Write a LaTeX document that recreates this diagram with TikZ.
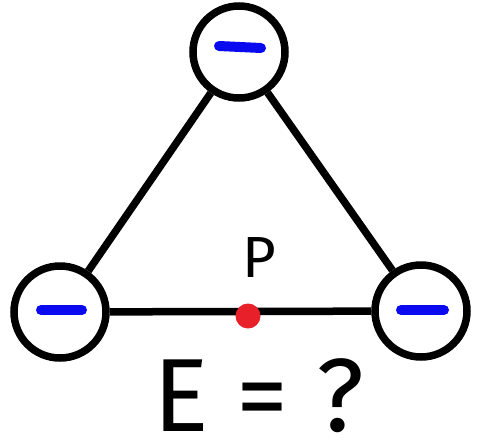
\documentclass[tikz,border=0pt]{standalone}
\usepackage{fontspec}
\setmainfont{Fira Sans}
\definecolor{chargeblue}{HTML}{0A0AF0}
\definecolor{dotred}{HTML}{E8202A}
\begin{document}
\begin{tikzpicture}[x=1pt,y=-1pt,
  charge/.style={circle,draw=black,line width=7.5pt,fill=white,minimum size=92pt,inner sep=0pt},
  rod/.style={line width=7.5pt,black},
  minus/.style={line width=10pt,chargeblue,line cap=round},
  pointdot/.style={circle,fill=dotred,minimum size=25pt,inner sep=0pt},
  lbl/.style={inner sep=0pt,text=black}]
\useasboundingbox (0,0) rectangle (477,440);
\node[charge] (top) at (239,52) {};
\node[charge] (left) at (60,312) {};
\node[charge] (right) at (421,311) {};
\draw[rod] (top) -- (left);
\draw[rod] (top) -- (right);
\draw[rod] (left) -- (right);
\node[pointdot] (pt) at (248,316) {};
\node[lbl,font=\fontsize{58}{60}\selectfont,anchor=base] (plabel) at (259,277) {P};
\node[lbl,font=\fontsize{104}{110}\selectfont,anchor=base] (eq) at (259,431) {E = ?};
\draw[minus] ([xshift=-20pt,yshift=6pt]top.center) -- ([xshift=22pt,yshift=4pt]top.center);
\draw[minus] ([xshift=-19pt,yshift=2pt]left.center) -- ([xshift=22pt,yshift=2pt]left.center);
\draw[minus] ([xshift=-20pt,yshift=1pt]right.center) -- ([xshift=23pt,yshift=1pt]right.center);
\end{tikzpicture}
\end{document}
